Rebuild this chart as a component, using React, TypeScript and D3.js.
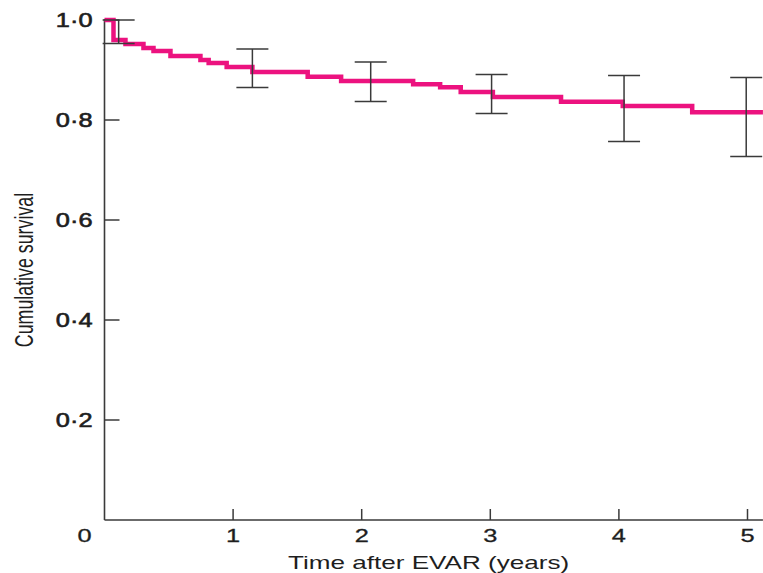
import React from "react";
import * as d3 from "d3";

const stepTimes = [0, 0.07, 0.163, 0.303, 0.381, 0.513, 0.746, 0.81, 0.95, 1.15, 1.58, 1.84, 2.4, 2.61, 2.77, 3.02, 3.55, 4.03, 4.57];
const survival = [1.0, 0.96, 0.952, 0.944, 0.938, 0.928, 0.92, 0.914, 0.906, 0.896, 0.8866, 0.878, 0.8714, 0.8654, 0.856, 0.846, 0.8366, 0.828, 0.8154];
const endTime = 5.12;

const ebTimes = [0.11, 1.15, 2.07, 3.01, 4.04, 4.99];
const ebUpper = [1.0, 0.942, 0.916, 0.891, 0.889, 0.885];
const ebLower = [0.953, 0.865, 0.837, 0.813, 0.757, 0.727];

const xTicks = [1, 2, 3, 4, 5];
const xTickLabels = ["1", "2", "3", "4", "5"];
const yTicks = [0.2, 0.4, 0.6, 0.8, 1.0];
const yTickLabels = ["0·2", "0·4", "0·6", "0·8", "1·0"];
const originLabel = "0";
const xTitle = "Time after EVAR (years)";
const yTitle = "Cumulative survival";

const W = 763;
const H = 573;
const FONT = "'Liberation Sans', Arial, sans-serif";
const AXIS = "#3a3a3a";
const PINK = "#ec127f";
const TXT = "#1e1e1e";

export default function App() {
  const x = d3.scaleLinear().domain([0, 5]).range([104.5, 747.5]);
  const y = d3.scaleLinear().domain([0, 1]).range([520, 20]);

  const pts: [number, number][] = stepTimes.map((t, i) => [t, survival[i]]);
  pts.push([endTime, survival[survival.length - 1]]);
  const line = d3
    .line<[number, number]>()
    .x((d) => x(d[0]))
    .y((d) => y(d[1]))
    .curve(d3.curveStepAfter);

  const cap = 16;
  const x0 = x(0);
  const y0 = y(0);

  return (
    <svg
      width={W}
      height={H}
      viewBox={`0 0 ${W} ${H}`}
      style={{ position: "absolute", left: 0, top: 0, background: "#fff" }}
    >
      <rect x={0} y={0} width={W} height={H} fill="#fff" />
      {/* axes */}
      <line x1={x0} x2={x0} y1={y(1) - 1} y2={y0} stroke={AXIS} strokeWidth={1.6} />
      <line x1={x0} x2={x(endTime)} y1={y0} y2={y0} stroke={AXIS} strokeWidth={1.6} />
      {yTicks.map((v, i) => (
        <g key={"yt" + i}>
          <line x1={x0} x2={x0 + 15} y1={y(v)} y2={y(v)} stroke={AXIS} strokeWidth={1.5} />
          <text
            transform={`translate(${x0 - 12},${y(v) + 7}) scale(1.3,1)`}
            textAnchor="end"
            fontFamily={FONT}
            fontSize={19.5}
            fill={TXT}
            stroke={TXT}
            strokeWidth={0.6}
          >
            {yTickLabels[i]}
          </text>
        </g>
      ))}
      {xTicks.map((v, i) => (
        <g key={"xt" + i}>
          <line x1={x(v)} x2={x(v)} y1={y0} y2={y0 - 11} stroke={AXIS} strokeWidth={1.5} />
          <text
            transform={`translate(${x(v)},${y0 + 22}) scale(1.45,1)`}
            textAnchor="middle"
            fontFamily={FONT}
            fontSize={17.5}
            fill={TXT}
            stroke={TXT}
            strokeWidth={0.3}
          >
            {xTickLabels[i]}
          </text>
        </g>
      ))}
      <text
        transform={`translate(${x0 - 20},${y0 + 22}) scale(1.45,1)`}
        textAnchor="middle"
        fontFamily={FONT}
        fontSize={17.5}
        fill={TXT}
        stroke={TXT}
        strokeWidth={0.3}
      >
        {originLabel}
      </text>
      {/* axis titles */}
      <text
        transform={`translate(${x(2.52)},${y0 + 49}) scale(1.45,1)`}
        textAnchor="middle"
        fontFamily={FONT}
        fontSize={18}
        fill={TXT}
      >
        {xTitle}
      </text>
      <text
        transform={`translate(33,${y(0.5)}) rotate(-90) scale(1,1.5)`}
        textAnchor="middle"
        fontFamily={FONT}
        fontSize={17.8}
        fill={TXT}
      >
        {yTitle}
      </text>
      {/* survival curve */}
      <path
        d={line(pts) || ""}
        fill="none"
        stroke={PINK}
        strokeWidth={4.5}
        strokeLinejoin="miter"
        strokeLinecap="butt"
      />
      {/* error bars */}
      {ebTimes.map((t, i) => (
        <g key={"eb" + i} stroke={AXIS} strokeWidth={1.5}>
          <line x1={x(t)} x2={x(t)} y1={y(ebUpper[i])} y2={y(ebLower[i])} />
          <line x1={x(t) - cap} x2={x(t) + cap} y1={y(ebUpper[i])} y2={y(ebUpper[i])} />
          <line x1={x(t) - cap} x2={x(t) + cap} y1={y(ebLower[i])} y2={y(ebLower[i])} />
        </g>
      ))}
    </svg>
  );
}
